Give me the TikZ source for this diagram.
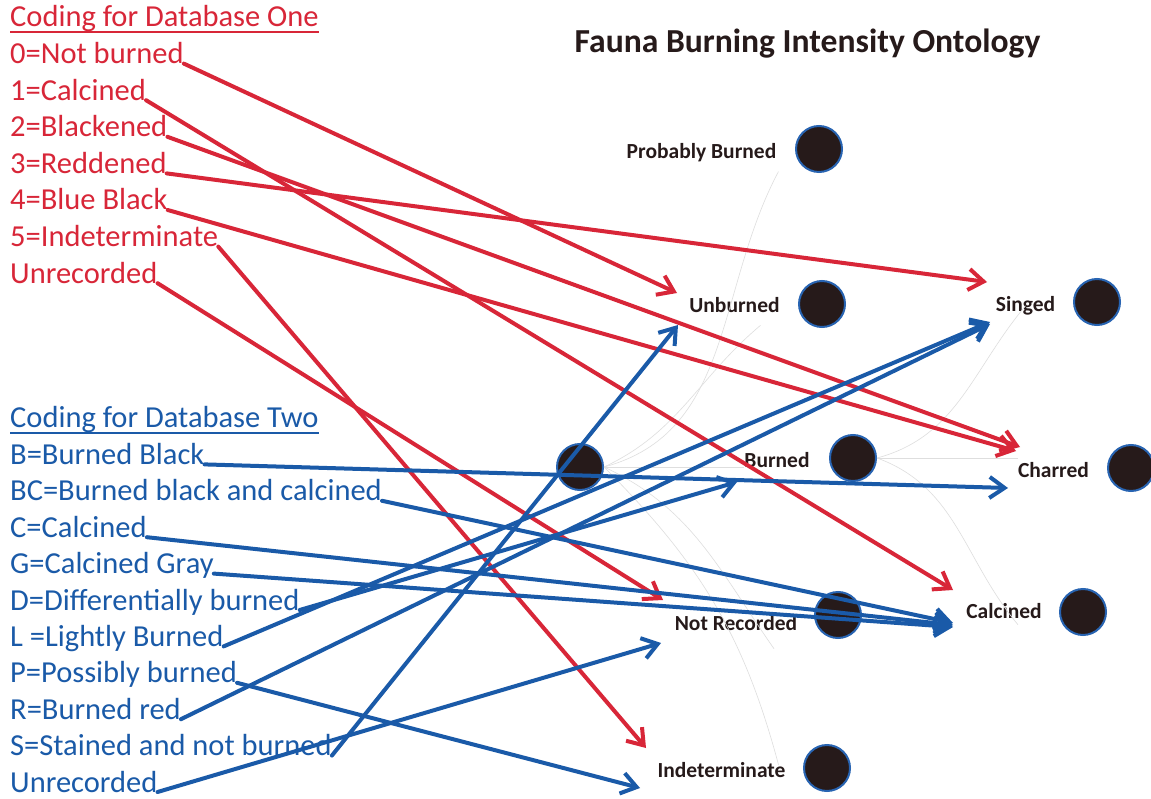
\documentclass[tikz,border=0pt]{standalone}
\usepackage{fontspec}
\setmainfont{Carlito}
\usetikzlibrary{arrows.meta}
\definecolor{dbred}{RGB}{216,38,56}
\definecolor{dbblue}{RGB}{26,90,168}
\definecolor{ink}{RGB}{38,26,26}
\definecolor{ringblue}{RGB}{40,100,178}
\begin{document}
\begin{tikzpicture}[x=1pt,y=-1pt,
  redtxt/.style={anchor=base west,inner sep=0,text=dbred,font=\fontsize{30.5}{36}\selectfont},
  bluetxt/.style={anchor=base west,inner sep=0,text=dbblue,font=\fontsize{30.5}{36}\selectfont},
  ontolabel/.style={anchor=base,inner sep=0,text=ink,font=\fontsize{21.5}{26}\selectfont\bfseries},
  titletxt/.style={anchor=base,inner sep=0,text=ink,font=\fontsize{33.6}{40}\selectfont\bfseries},
  dot/.style={circle,fill=ink,draw=ringblue,line width=2pt,minimum size=46pt,inner sep=0},
  faint/.style={draw=black!13,line width=0.6pt},
  redarrow/.style={draw=dbred,line width=4pt,line cap=round,-{Straight Barb[length=15pt,width=21pt]}},
  bluearrow/.style={draw=dbblue,line width=4pt,line cap=round,-{Straight Barb[length=15pt,width=21pt]}},
]
\useasboundingbox (0,0) rectangle (1151,799);
\fill[white] (0,0) rectangle (1151,799);

% title
\node[titletxt] (title) at (807.5,53) {Fauna Burning Intensity Ontology};

% ontology nodes
\node[dot] (root) at (580,467) {};
\node[dot] (dpb) at (819,149) {};
\node[dot] (dunb) at (822,304) {};
\node[dot] (dbur) at (853,458) {};
\node[dot] (dnr) at (838,615) {};
\node[dot] (dind) at (827,768) {};
\node[dot] (dsin) at (1097,302) {};
\node[dot] (dcha) at (1131,468) {};
\node[dot] (dcal) at (1083,612) {};

\node[ontolabel] (lpb) at (701.5,159) {Probably Burned};
\node[ontolabel] (lunb) at (734.5,313) {Unburned};
\node[ontolabel] (lbur) at (777,467) {Burned};
\node[ontolabel] (lnr) at (736,630) {Not Recorded};
\node[ontolabel] (lind) at (721.5,777) {Indeterminate};
\node[ontolabel] (lsin) at (1025.5,312) {Singed};
\node[ontolabel] (lcha) at (1053.5,477) {Charred};
\node[ontolabel] (lcal) at (1004,618) {Calcined};

% faint hierarchy curves
\draw[faint] (root.east) to[out=15,in=-118] ([xshift=2pt,yshift=-9pt]lpb.south east);
\draw[faint] (root.east) to[out=25,in=-140] ([xshift=26pt,yshift=-12pt]lunb.south);
\draw[faint] (root.east) -- (root.east -| lbur.west);
\draw[faint] (root.east) to[out=-25,in=125] ([xshift=38pt,yshift=-34pt]lnr.north);
\draw[faint] (root.east) to[out=-45,in=105] ([xshift=57pt,yshift=-3pt]lind.north);
\draw[faint] (dbur.east) to[out=15,in=-130] ([yshift=10pt]lsin.south);
\draw[faint] (dbur.east) -- (dbur.east -| lcha.west);
\draw[faint] (dbur.east) to[out=-20,in=130] ([xshift=14pt,yshift=-22pt]lcal.north);

% Database One
\node[redtxt] (rh) at (10,27) {Coding for Database One};
\draw[dbred,line width=1.8pt] ([yshift=-5pt]rh.base west) -- ([yshift=-5pt]rh.base east);
\node[redtxt] (r0) at (10,63.6) {0=Not burned};
\node[redtxt] (r1) at (10,100.2) {1=Calcined};
\node[redtxt] (r2) at (10,136.8) {2=Blackened};
\node[redtxt] (r3) at (10,173.4) {3=Reddened};
\node[redtxt] (r4) at (10,210) {4=Blue Black};
\node[redtxt] (r5) at (10,246.6) {5=Indeterminate};
\node[redtxt] (r6) at (10,283.2) {Unrecorded};

% Database Two
\node[bluetxt] (bh) at (10,428) {Coding for Database Two};
\draw[dbblue,line width=1.8pt] ([yshift=-5pt]bh.base west) -- ([yshift=-5pt]bh.base east);
\node[bluetxt] (b0) at (10,464.4) {B=Burned Black};
\node[bluetxt] (b1) at (10,500.8) {BC=Burned black and calcined};
\node[bluetxt] (b2) at (10,537.2) {C=Calcined};
\node[bluetxt] (b3) at (10,573.6) {G=Calcined Gray};
\node[bluetxt] (b4) at (10,610) {D=Differentially burned};
\node[bluetxt] (b5) at (10,646.4) {L =Lightly Burned};
\node[bluetxt] (b6) at (10,682.8) {P=Possibly burned};
\node[bluetxt] (b7) at (10,719.2) {R=Burned red};
\node[bluetxt] (b8) at (10,755.6) {S=Stained and not burned};
\node[bluetxt] (b9) at (10,792) {Unrecorded};

% arrow targets
\coordinate (unbR) at (677,293);
\coordinate (calR) at (953,590);
\coordinate (chaR1) at (1020,447);
\coordinate (sinR) at (987,282);
\coordinate (chaR2) at (1016,451);
\coordinate (indR) at (646,748);
\coordinate (nrR) at (663,600);
\coordinate (chaB) at (1008,488);
\coordinate (calB1) at (953,623);
\coordinate (calB2) at (953,625);
\coordinate (calB3) at (953,627);
\coordinate (burB) at (737,482);
\coordinate (sinB1) at (990,322);
\coordinate (sinB2) at (990,324);
\coordinate (indB) at (640,788);
\coordinate (unbB) at (678,325);
\coordinate (nrB) at (661,643);

% red connectors
\draw[redarrow] (r0.base east) -- (unbR);
\draw[redarrow] (r1.base east) -- (calR);
\draw[redarrow] (r2.base east) -- (chaR1);
\draw[redarrow] (r3.base east) -- (sinR);
\draw[redarrow] (r4.base east) -- (chaR2);
\draw[redarrow] (r5.base east) -- (indR);
\draw[redarrow] (r6.base east) -- (nrR);

% blue connectors
\draw[bluearrow] (b0.base east) -- (chaB);
\draw[bluearrow] (b1.base east) -- (calB1);
\draw[bluearrow] (b2.base east) -- (calB2);
\draw[bluearrow] (b3.base east) -- (calB3);
\draw[bluearrow] (b4.base east) -- (burB);
\draw[bluearrow] (b5.base east) -- (sinB1);
\draw[bluearrow] (b6.base east) -- (indB);
\draw[bluearrow] (b7.base east) -- (sinB2);
\draw[bluearrow] (b8.base east) -- (unbB);
\draw[bluearrow] (b9.base east) -- (nrB);
\end{tikzpicture}
\end{document}
